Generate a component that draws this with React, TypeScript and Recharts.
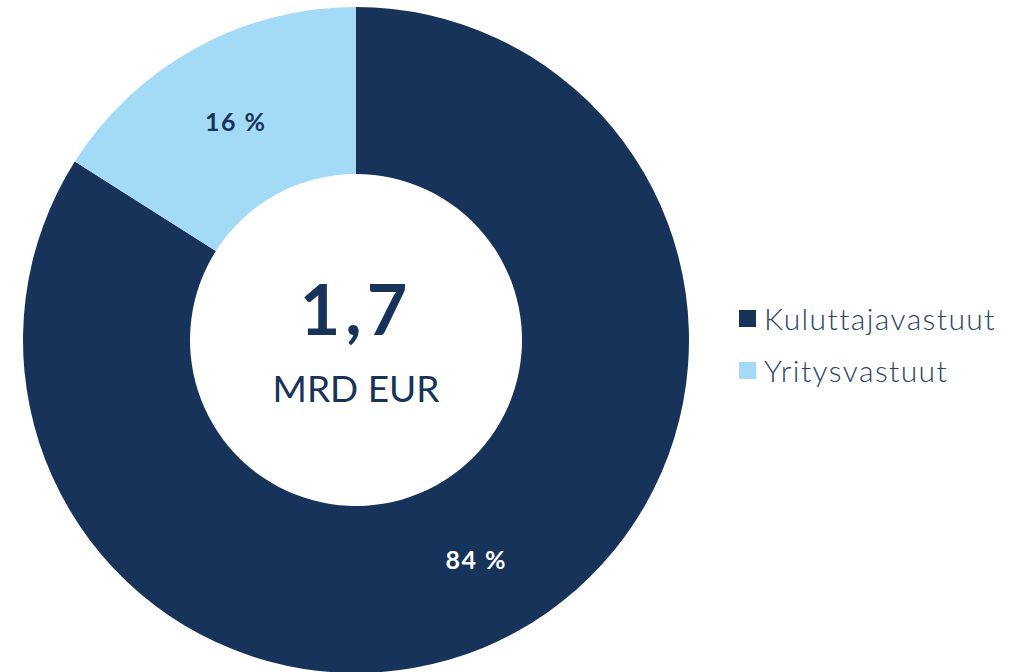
import { PieChart, Pie, Cell, Legend, Label } from "recharts";

const categories = ["Kuluttajavastuut", "Yritysvastuut"];
const shares = [84, 16];
const sliceColors = ["#173359", "#a3dbf7"];
const labelColors = ["#ffffff", "#173359"];
const totalValue = "1,7";
const totalUnit = "MRD EUR";

const data = categories.map((name, i) => ({ name, value: shares[i] }));

const RADIAN = Math.PI / 180;
const FONT = "Lato, 'Open Sans', sans-serif";
const CX = 356;
const CY = 340;

const SliceLabel = (props: any) => {
  const { cx, cy, innerRadius, outerRadius, midAngle, index, value } = props;
  const r = (innerRadius + outerRadius) / 2;
  const x = cx + r * Math.cos(-midAngle * RADIAN);
  const y = cy + r * Math.sin(-midAngle * RADIAN);
  return (
    <text
      x={x}
      y={y}
      fill={labelColors[index]}
      textAnchor="middle"
      dominantBaseline="central"
      fontFamily={FONT}
      fontWeight={700}
      fontSize={25}
      letterSpacing={1.5}
    >
      {`${value} %`}
    </text>
  );
};

const CenterLabel = (props: any) => {
  const vb = props.viewBox || {};
  const cx = vb.cx ?? CX;
  const cy = vb.cy ?? CY;
  return (
    <g>
      <text
        x={cx}
        y={cy - 32}
        textAnchor="middle"
        dominantBaseline="central"
        fill="#173359"
        fontFamily={FONT}
        fontWeight={700}
        fontSize={70}
        letterSpacing={5}
      >
        {totalValue}
      </text>
      <text
        x={cx}
        y={cy + 47}
        textAnchor="middle"
        dominantBaseline="central"
        fill="#173359"
        fontFamily={FONT}
        fontWeight={400}
        fontSize={37}
      >
        {totalUnit}
      </text>
    </g>
  );
};

const LegendContent = () => (
  <div style={{ fontFamily: FONT }}>
    {categories.map((c, i) => (
      <div
        key={c}
        style={{ display: "flex", alignItems: "center", height: 52 }}
      >
        <span
          style={{
            width: 17,
            height: 17,
            background: sliceColors[i],
            display: "inline-block",
            marginRight: 8,
          }}
        />
        <span
          style={{
            fontSize: 30,
            color: "#2b4468",
            fontWeight: 300,
            letterSpacing: 1.4,
          }}
        >
          {c}
        </span>
      </div>
    ))}
  </div>
);

export default function App() {
  return (
    <div style={{ position: "absolute", left: 0, top: 0, background: "#fff" }}>
      <PieChart width={1028} height={672} margin={{ top: 0, right: 0, bottom: 0, left: 0 }}>
        <Pie
          data={data}
          dataKey="value"
          nameKey="name"
          cx={CX}
          cy={CY}
          innerRadius={166}
          outerRadius={333}
          startAngle={90}
          endAngle={-270}
          stroke="none"
          label={SliceLabel}
          labelLine={false}
          isAnimationActive={false}
        >
          {data.map((d, i) => (
            <Cell key={d.name} fill={sliceColors[i]} />
          ))}
          <Label position="center" content={CenterLabel} />
        </Pie>
        <Legend
          layout="vertical"
          verticalAlign="middle"
          align="right"
          wrapperStyle={{ left: 739, top: 292, right: "auto", width: 289 }}
          content={LegendContent}
        />
      </PieChart>
    </div>
  );
}
